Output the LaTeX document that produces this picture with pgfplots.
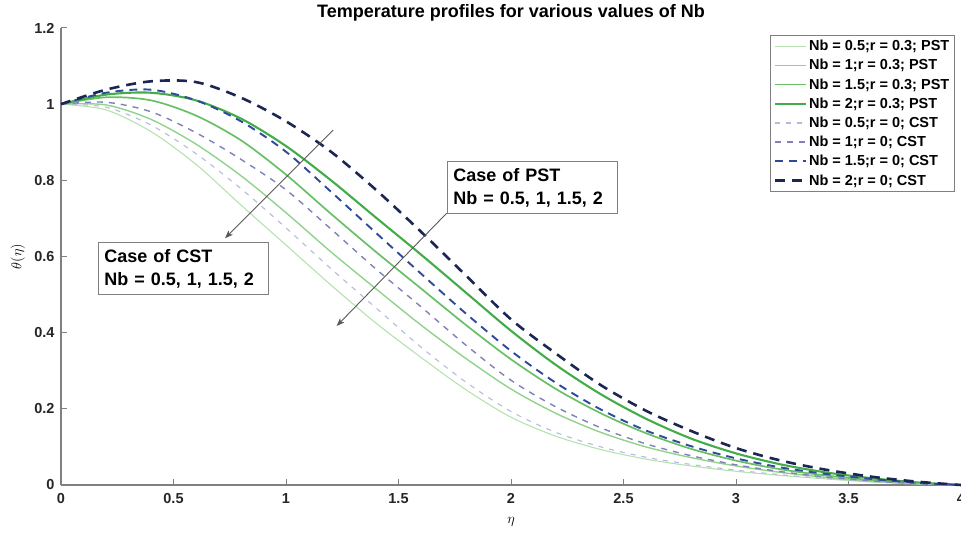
\documentclass[border=0pt]{standalone}
\usepackage{fontspec}
\setmainfont{Liberation Sans}
\usepackage{pgfplots}
\usepackage{pgfplotstable}
\pgfplotsset{compat=1.18}
\usetikzlibrary{arrows.meta}

\definecolor{pA}{RGB}{182,226,176}
\definecolor{pB}{RGB}{145,210,140}
\definecolor{pC}{RGB}{104,192,102}
\definecolor{pD}{RGB}{66,172,72}
\definecolor{cA}{RGB}{184,184,222}
\definecolor{cB}{RGB}{128,128,186}
\definecolor{cC}{RGB}{48,74,155}
\definecolor{cD}{RGB}{28,38,82}
\definecolor{axgray}{RGB}{128,128,128}

\pgfplotstableread{
eta  p05   p1    p15   p2    c05   c1    c15   c2
0.0  1.000 1.000 1.000 1.000 1.000 1.000 1.000 1.000
0.2  0.985 0.998 1.018 1.025 0.992 1.005 1.030 1.038
0.4  0.928 0.960 1.010 1.030 0.945 0.980 1.038 1.060
0.6  0.842 0.895 0.970 1.010 0.870 0.925 1.010 1.058
0.8  0.735 0.812 0.905 0.962 0.778 0.855 0.955 1.017
1.0  0.630 0.715 0.815 0.890 0.675 0.775 0.875 0.955
1.2  0.525 0.612 0.712 0.800 0.568 0.672 0.770 0.875
1.4  0.425 0.515 0.612 0.702 0.465 0.567 0.662 0.775
1.6  0.335 0.420 0.516 0.605 0.362 0.468 0.555 0.665
1.8  0.250 0.332 0.420 0.505 0.270 0.367 0.450 0.550
2.0  0.178 0.252 0.330 0.405 0.193 0.275 0.352 0.435
2.2  0.128 0.188 0.252 0.315 0.138 0.205 0.268 0.345
2.4  0.093 0.138 0.188 0.238 0.100 0.150 0.198 0.262
2.6  0.068 0.100 0.136 0.174 0.073 0.108 0.143 0.195
2.8  0.050 0.072 0.095 0.122 0.054 0.077 0.102 0.142
3.0  0.036 0.050 0.064 0.083 0.039 0.053 0.070 0.097
3.2  0.025 0.033 0.041 0.054 0.027 0.035 0.046 0.064
3.4  0.016 0.020 0.025 0.033 0.017 0.021 0.029 0.040
3.6  0.008 0.010 0.013 0.018 0.009 0.011 0.016 0.022
3.8  0.003 0.004 0.005 0.007 0.003 0.004 0.006 0.009
4.0  0.000 0.000 0.000 0.000 0.000 0.000 0.000 0.000
}\thetadata

\begin{document}
\begin{tikzpicture}
\begin{axis}[
  scale only axis,
  width=900bp, height=457bp,
  xmin=0, xmax=4, ymin=0, ymax=1.2,
  axis lines=left,
  axis line style={-, axgray, line width=1.2bp},
  tick style={axgray, line width=1bp},
  tick align=inside,
  major tick length=6bp,
  xtick={0,0.5,...,4},
  ytick={0,0.2,0.4,0.6,0.8,1,1.2},
  /pgf/number format/assume math mode=true,
  ticklabel style={font=\fontsize{14.5bp}{17bp}\selectfont\bfseries, text=black!85},
  yticklabel style={xshift=-3bp},
  xticklabel style={yshift=-5bp},
  title={Temperature profiles for various values of Nb},
  title style={font=\fontsize{18bp}{20bp}\selectfont\bfseries, at={(axis description cs:0.5,1)}, anchor=base, yshift=4.5bp},
  xlabel={$\eta$},
  ylabel={$\theta(\eta)$},
  xlabel style={font=\fontsize{15bp}{17bp}\selectfont, at={(axis description cs:0.5,-0.081)}, anchor=center},
  ylabel style={font=\fontsize{15bp}{17bp}\selectfont, at={(axis description cs:-0.048,0.5)}, anchor=center, rotate=0},
  legend style={at={(0.993,0.985)}, anchor=north east, draw=axgray, line width=0.8bp,
    font=\fontsize{14.5bp}{16bp}\selectfont\bfseries, row sep=3.2bp, inner sep=3bp},
  legend cell align=left,
  legend image code/.code={\draw[#1] (0bp,0bp) -- (31bp,0bp);},
  every axis plot/.append style={smooth, no markers},
  clip=false,
]
\addplot[pA, line width=1.1bp] table[x=eta,y=p05]{\thetadata};
\addlegendentry{Nb = 0.5;r = 0.3; PST}
\addplot[pB, line width=1.4bp] table[x=eta,y=p1]{\thetadata};
\addlegendentry{Nb = 1;r = 0.3; PST}
\addplot[pC, line width=1.7bp] table[x=eta,y=p15]{\thetadata};
\addlegendentry{Nb = 1.5;r = 0.3; PST}
\addplot[pD, line width=2.1bp] table[x=eta,y=p2]{\thetadata};
\addlegendentry{Nb = 2;r = 0.3; PST}
\addplot[cA, line width=1.1bp, dash pattern=on 5bp off 6bp] table[x=eta,y=c05]{\thetadata};
\addlegendentry{Nb = 0.5;r = 0; CST}
\addplot[cB, line width=1.4bp, dash pattern=on 6bp off 6bp] table[x=eta,y=c1]{\thetadata};
\addlegendentry{Nb = 1;r = 0; CST}
\addplot[cC, line width=1.9bp, dash pattern=on 8bp off 6bp] table[x=eta,y=c15]{\thetadata};
\addlegendentry{Nb = 1.5;r = 0; CST}
\addplot[cD, line width=2.6bp, dash pattern=on 10bp off 7bp] table[x=eta,y=c2]{\thetadata};
\addlegendentry{Nb = 2;r = 0; CST}

\draw[black!65, line width=0.9bp, -{Stealth[length=8bp,width=6bp,inset=2bp]}] (axis cs:1.21,0.932) -- (axis cs:0.729,0.648);
\draw[black!65, line width=0.9bp, -{Stealth[length=8bp,width=6bp,inset=2bp]}] (axis cs:1.714,0.7135) -- (axis cs:1.225,0.4175);
\node[draw=axgray, line width=1bp, fill=white, anchor=north west, align=left, text width=159bp, inner xsep=5.5bp, inner ysep=3bp, minimum height=52.6bp, font=\fontsize{18bp}{23bp}\selectfont\bfseries] at (axis cs:1.717,0.8516) {Case of PST\\Nb = 0.5, 1, 1.5, 2};
\node[draw=axgray, line width=1bp, fill=white, anchor=north west, align=left, text width=159bp, inner xsep=5.5bp, inner ysep=3bp, minimum height=52.6bp, font=\fontsize{18bp}{23bp}\selectfont\bfseries] at (axis cs:0.1658,0.639) {Case of CST\\Nb = 0.5, 1, 1.5, 2};
\end{axis}
\pgfresetboundingbox
\path[use as bounding box] (-61bp,-48bp) rectangle (900bp,485bp);
\end{tikzpicture}
\end{document}
